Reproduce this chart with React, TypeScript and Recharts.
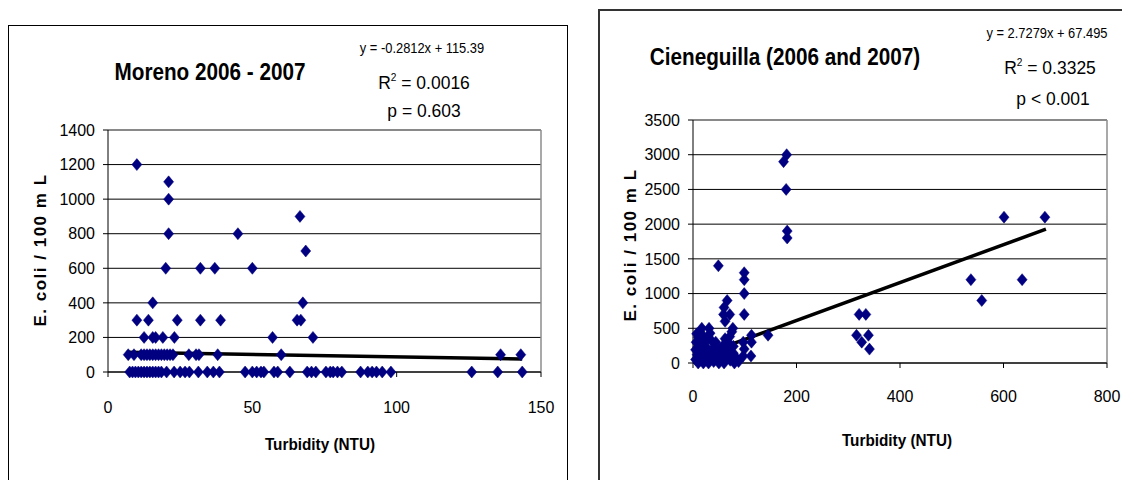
import React from "react";
import { ScatterChart, Scatter, XAxis, YAxis, CartesianGrid, ReferenceLine } from "recharts";

// ---------- Moreno data ----------
const morenoTurbidity = [
  10, 21, 21, 66.5, 21, 45, 68.5, 20, 32, 37, 50, 15.5, 67.5,
  10, 14, 24, 32, 39, 65.5, 66.8,
  12.5, 15.5, 16.5, 19, 23, 57, 71,
  7, 9, 11.5, 12.5, 13.5, 14.5, 15.5, 16.5, 17.5, 18.5, 19.5, 20.5, 21.5, 22.5, 28, 30.5, 31.5, 38, 60, 136, 143,
  7.5, 8.5, 9.5, 10.5, 11.5, 12.5, 13.5, 14.5, 15.5, 16.5, 17.5, 18.5, 20.3, 22.9, 25, 26.7, 28.2, 31.3, 34.4, 36.5, 38.6,
  47.5, 50, 51.5, 53, 54, 57.5, 58.8, 63, 69, 70.5, 72, 75.5, 77, 78, 79.5, 81, 87.5, 90, 91.5, 93, 95, 98, 126, 135, 143.5,
];
const morenoEcoli = [
  1200, 1100, 1000, 900, 800, 800, 700, 600, 600, 600, 600, 400, 400,
  300, 300, 300, 300, 300, 300, 300,
  200, 200, 200, 200, 200, 200, 200,
  100, 100, 100, 100, 100, 100, 100, 100, 100, 100, 100, 100, 100, 100, 100, 100, 100, 100, 100, 100, 100,
  0, 0, 0, 0, 0, 0, 0, 0, 0, 0, 0, 0, 0, 0, 0, 0, 0, 0, 0, 0, 0,
  0, 0, 0, 0, 0, 0, 0, 0, 0, 0, 0, 0, 0, 0, 0, 0, 0, 0, 0, 0, 0, 0, 0, 0, 0,
];
const morenoXTicks = [0, 50, 100, 150];
const morenoYTicks = [0, 200, 400, 600, 800, 1000, 1200, 1400];
const morenoSlope = -0.2812;
const morenoIntercept = 115.39;
const morenoFitRange = [6.5, 143.5];

// ---------- Cieneguilla data ----------
const cieneTurbidity = [
  181, 175, 180, 182, 182,
  49, 99, 99, 99, 99,
  66, 60, 59, 71, 62, 77,
  145, 113, 113, 97, 99, 112, 97,
  321, 334, 316, 339, 326, 341,
  601, 680, 537, 558, 636,
  17, 31, 13, 33, 10, 11, 36, 10, 25, 39, 5, 47, 18, 30, 8, 22, 42, 55, 65, 71, 68, 78, 78, 72,
  60, 50, 40, 30, 20, 10, 5, 15, 25, 35, 45, 85, 88, 80, 60, 50, 65, 6, 7, 15, 27, 52, 58, 62, 75, 12, 20, 44, 70,
];
const cieneEcoli = [
  3000, 2900, 2500, 1900, 1800,
  1400, 1300, 1200, 1000, 700,
  900, 800, 700, 700, 600, 500,
  400, 400, 300, 300, 200, 100, 100,
  700, 700, 400, 400, 300, 200,
  2100, 2100, 1200, 900, 1200,
  500, 500, 450, 430, 370, 300, 320, 235, 235, 210, 190, 190, 160, 150, 120, 110, 100, 130, 160, 380, 300, 240, 140, 40,
  60, 30, 20, 0, 0, 0, 50, 40, 60, 70, 80, 60, 20, 0, 0, 0, 90, 300, 420, 280, 330, 200, 250, 350, 450, 200, 380, 300, 220,
];
const cieneXTicks = [0, 200, 400, 600, 800];
const cieneYTicks = [0, 500, 1000, 1500, 2000, 2500, 3000, 3500];
const cieneSlope = 2.7279;
const cieneIntercept = 67.495;
const cieneFitRange = [10, 682];

const FONT = '"Liberation Sans", Arial, sans-serif';
const NAVY = "#000080";

const zip = (xs: number[], ys: number[]) => xs.map((x, i) => ({ x, y: ys[i] }));

const Diamond = (props: any) => {
  const { cx, cy } = props;
  if (cx == null || cy == null) return <g />;
  const w = 5;
  const h = 6;
  return (
    <polygon
      points={`${cx},${cy - h} ${cx + w},${cy} ${cx},${cy + h} ${cx - w},${cy}`}
      fill={NAVY}
      stroke={NAVY}
      strokeWidth={0.5}
    />
  );
};

const tickStyle = { fontSize: 16, fill: "#000", fontFamily: FONT };

const Text = ({ x, y, size, bold, children, rotate, spacing, sx }: any) => (
  <div
    style={{
      position: "absolute",
      left: x,
      top: y,
      transform: `translate(-50%, -50%)${rotate ? " rotate(-90deg)" : ""} scaleX(${sx || 1})`,
      fontFamily: FONT,
      fontSize: size,
      fontWeight: bold ? "bold" : "normal",
      whiteSpace: "nowrap",
      letterSpacing: spacing || 0,
      lineHeight: 1,
      color: "#000",
    }}
  >
    {children}
  </div>
);

function Panel({
  data, xTicks, yTicks, slope, intercept, range, width, height, margin, left,
}: any) {
  const xMax = xTicks[xTicks.length - 1];
  const yMax = yTicks[yTicks.length - 1];
  return (
    <div style={{ position: "absolute", left, top: 0 }}>
      <ScatterChart width={width} height={height} margin={margin}>
        <CartesianGrid horizontal vertical={false} stroke="#000" strokeOpacity={1} />
        <XAxis
          type="number"
          dataKey="x"
          domain={[0, xMax]}
          ticks={xTicks}
          height={30}
          axisLine={{ stroke: "#000" }}
          tickLine={{ stroke: "#000" }}
          tickSize={5}
          tickMargin={margin.xTickMargin}
          tick={tickStyle}
          interval={0}
        />
        <YAxis
          type="number"
          dataKey="y"
          domain={[0, yMax]}
          ticks={yTicks}
          width={60}
          axisLine={{ stroke: "#000" }}
          tickLine={{ stroke: "#000" }}
          tickSize={5}
          tickMargin={8}
          tick={tickStyle}
          interval={0}
        />
        <ReferenceLine y={yMax} stroke="#8c8c8c" strokeWidth={1.5} />
        <ReferenceLine x={xMax} stroke="#8c8c8c" strokeWidth={1.5} />
        <Scatter data={data} shape={Diamond} isAnimationActive={false} />
        <ReferenceLine
          segment={[
            { x: range[0], y: slope * range[0] + intercept },
            { x: range[1], y: slope * range[1] + intercept },
          ]}
          stroke="#000"
          strokeWidth={3.5}
          ifOverflow="visible"
        />
      </ScatterChart>
    </div>
  );
}

export default function App() {
  const moreno = zip(morenoTurbidity, morenoEcoli);
  const ciene = zip(cieneTurbidity, cieneEcoli);
  return (
    <div
      style={{
        position: "absolute",
        left: 0,
        top: 0,
        width: 1122,
        height: 480,
        overflow: "hidden",
        background: "#fff",
      }}
    >
      <div
        style={{
          position: "absolute",
          left: 8,
          top: 25,
          width: 558,
          height: 480,
          border: "1.5px solid #000",
        }}
      />
      <div
        style={{
          position: "absolute",
          left: 598,
          top: 9,
          width: 600,
          height: 500,
          border: "2px solid #333",
        }}
      />
      <Panel
        data={moreno}
        xTicks={morenoXTicks}
        yTicks={morenoYTicks}
        slope={morenoSlope}
        intercept={morenoIntercept}
        range={morenoFitRange}
        width={570}
        height={480}
        left={0}
        margin={{ top: 130, right: 29, bottom: 78, left: 48, xTickMargin: 25 }}
      />
      <Panel
        data={ciene}
        xTicks={cieneXTicks}
        yTicks={cieneYTicks}
        slope={cieneSlope}
        intercept={cieneIntercept}
        range={cieneFitRange}
        width={532}
        height={480}
        left={590}
        margin={{ top: 120, right: 15, bottom: 87, left: 43, xTickMargin: 23 }}
      />

      <Text x={210} y={72} size={23} sx={0.9} bold>Moreno 2006 - 2007</Text>
      <Text x={422} y={48} size={14} sx={0.92}>y = -0.2812x + 115.39</Text>
      <Text x={424} y={82} size={19} sx={0.92}>R<sup style={{ fontSize: 11 }}>2</sup> = 0.0016</Text>
      <Text x={424} y={110} size={19} sx={0.92}>p = 0.603</Text>
      <Text x={40} y={250} size={17} bold rotate spacing={1.5}>E. coli / 100 m L</Text>
      <Text x={320} y={444} size={17} sx={0.9} bold>Turbidity (NTU)</Text>

      <Text x={785} y={57} size={23} sx={0.9} bold>Cieneguilla (2006 and 2007)</Text>
      <Text x={1047} y={33} size={14} sx={0.92}>y = 2.7279x + 67.495</Text>
      <Text x={1050} y={67} size={19} sx={0.92}>R<sup style={{ fontSize: 11 }}>2</sup> = 0.3325</Text>
      <Text x={1053} y={98} size={19} sx={0.92}>p &lt; 0.001</Text>
      <Text x={630} y={245} size={17} bold rotate spacing={1.5}>E. coli / 100 m L</Text>
      <Text x={897} y={440} size={17} sx={0.9} bold>Turbidity (NTU)</Text>
    </div>
  );
}
